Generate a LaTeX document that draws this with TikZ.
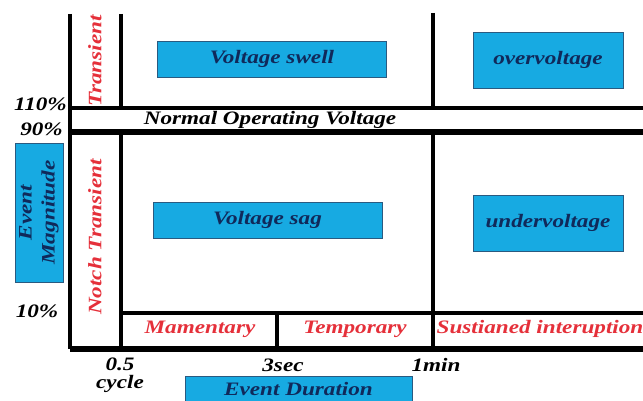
\documentclass[tikz,border=0pt]{standalone}
\usepackage{fontspec}
\setmainfont{Liberation Serif}
\definecolor{boxblue}{HTML}{17AAE2}
\definecolor{navy}{HTML}{10295A}
\definecolor{redtxt}{HTML}{E5303A}
\definecolor{boxedge}{HTML}{2A5A80}
\newcommand\wide[1]{\scalebox{1.22}[1]{#1}}
\tikzset{
  txt/.style={font=\fontsize{19}{22}\selectfont\bfseries\itshape, inner sep=0pt},
  redlbl/.style={txt, text=redtxt},
  blklbl/.style={txt, text=black},
  bluebox/.style={draw=boxedge, line width=0.8pt, fill=boxblue, text=navy, txt},
  grid/.style={line width=4pt, black},
  thick grid/.style={line width=6pt, black},
}
\begin{document}
\begin{tikzpicture}[x=1pt,y=-1pt]
\useasboundingbox (0,0) rectangle (643,401);
% coordinates
\coordinate (lt) at (70,14);
\coordinate (lb) at (70,349);
\coordinate (rb) at (643,349);
\coordinate (h110l) at (68,108);
\coordinate (h110r) at (643,108);
\coordinate (h90l) at (68,132);
\coordinate (h90r) at (643,132);
\coordinate (v05t) at (121,14);
\coordinate (v05a) at (121,108);
\coordinate (v05b) at (121,132);
\coordinate (v05e) at (121,349);
\coordinate (v1t) at (433,13);
\coordinate (v1a) at (433,108);
\coordinate (v1b) at (433,132);
\coordinate (v1e) at (433,349);
\coordinate (bandl) at (119,313);
\coordinate (bandr) at (643,313);
\coordinate (v3t) at (277,313);
\coordinate (v3e) at (277,349);
% grid lines
\draw[grid] (lt) -- (lb);
\draw[thick grid] (lb) -- (rb);
\draw[grid] (h110l) -- (h110r);
\draw[thick grid] (h90l) -- (h90r);
\draw[grid] (v05t) -- (v05a);
\draw[grid] (v05b) -- (v05e);
\draw[grid] (v1t) -- (v1a);
\draw[grid] (v1b) -- (v1e);
\draw[grid] (bandl) -- (bandr);
\draw[grid] (v3t) -- (v3e);
% blue boxes
\node[bluebox, minimum width=229pt, minimum height=36pt] (swell) at (272,59) {\wide{Voltage swell}};
\node[bluebox, minimum width=150pt, minimum height=56pt] (over) at (548,60) {\wide{overvoltage}};
\node[bluebox, minimum width=229pt, minimum height=36pt] (sag) at (267.5,220) {\wide{Voltage sag}};
\node[bluebox, minimum width=150pt, minimum height=56pt] (under) at (548,223) {\wide{undervoltage}};
\node[bluebox, minimum width=139pt, minimum height=48pt, rotate=90, align=center, font=\fontsize{19}{23}\selectfont\bfseries\itshape] (mag) at (39,212.5) {\wide{Event}\\\wide{Magnitude}};
\node[bluebox, minimum width=227pt, minimum height=26pt] (dur) at (298.5,389) {\wide{Event Duration}};
% red labels
\node[redlbl, rotate=90] (trans) at (95,61) {\wide{Transient}};
\node[redlbl, rotate=90] (notch) at (95,237) {\wide{Notch Transient}};
\node[redlbl] (mom) at (200,329) {\wide{Mamentary}};
\node[redlbl] (temp) at (355,329) {\wide{Temporary}};
\node[redlbl] (sust) at (540,329) {\wide{Sustianed interuption}};
% black labels
\node[blklbl] (normal) at (270,120) {\wide{Normal Operating Voltage}};
\node[blklbl, anchor=east] (p110) at (67,104) {\wide{110\%}};
\node[blklbl, anchor=east] (p90) at (63,129) {\wide{90\%}};
\node[blklbl] (p10) at (37,311) {\wide{10\%}};
\node[blklbl] (t05) at (120,364) {\wide{0.5}};
\node[blklbl] (tcyc) at (120,384) {\wide{cycle}};
\node[blklbl] (t3) at (283,365) {\wide{3sec}};
\node[blklbl] (t1) at (436,365) {\wide{1min}};
\end{tikzpicture}
\end{document}
